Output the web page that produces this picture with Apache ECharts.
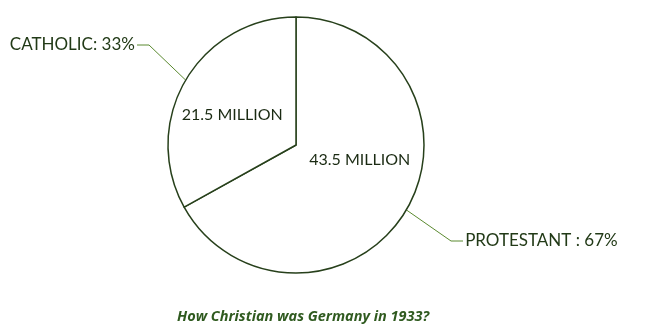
<!DOCTYPE html>
<html><head><meta charset="utf-8">
<script src="https://cdn.jsdelivr.net/npm/echarts@6/dist/echarts.min.js"></script>
<style>html,body{margin:0;padding:0;background:#fff}#c{width:645px;height:333px}</style>
</head><body><div id="c"></div>
<script>
const categories = ['PROTESTANT', 'CATHOLIC'];
const millions = [43.5, 21.5];
const titleText = 'How Christian was Germany in 1933?';

const chart = echarts.init(document.getElementById('c'), null, {renderer: 'canvas'});
const data = categories.map((n, i) => ({name: n, value: millions[i]}));
const ink = '#27401b';
const common = {
  type: 'pie', center: [296, 145], radius: 128, startAngle: 90, clockwise: true,
  percentPrecision: 0, silent: true, animation: false
};
chart.setOption({
  backgroundColor: '#fff',
  title: {
    text: titleText, left: 172, top: 304,
    textStyle: {fontFamily: 'Open Sans', fontStyle: 'italic', fontWeight: 'bold', fontSize: 14.5, color: '#2f5a1f'}
  },
  series: [
    Object.assign({}, common, {
      data: data,
      itemStyle: {color: '#fff', borderColor: ink, borderWidth: 1.5},
      label: {
        show: true, position: 'outside', alignTo: 'none', overflow: 'none',
        formatter: p => p.name === 'PROTESTANT'
          ? '\u2009' + p.name + ' : ' + p.percent + '%'
          : p.name + ': ' + p.percent + '%\u2009',
        fontFamily: 'Lato', fontSize: 17, color: '#223a17'
      },
      labelLine: {show: true, length: 50, length2: 12, lineStyle: {color: '#5b8a30', width: 1}},
      labelLayout: function (p) {
        return p.dataIndex === 1
          ? {x: 137, y: 45, align: 'right', verticalAlign: 'middle'}
          : {x: 463, y: 241, align: 'left', verticalAlign: 'middle'};
      }
    }),
    Object.assign({}, common, {
      data: data,
      itemStyle: {color: 'transparent', borderWidth: 0},
      label: {
        show: true, position: 'inner', formatter: '{c} MILLION',
        fontFamily: 'Lato', fontSize: 16, color: '#1a2a12'
      },
      labelLine: {show: false},
      labelLayout: function (p) {
        return p.dataIndex === 0 ? {dx: 6, dy: -19} : {dx: -6, dy: 4};
      }
    })
  ]
});
</script></body></html>
